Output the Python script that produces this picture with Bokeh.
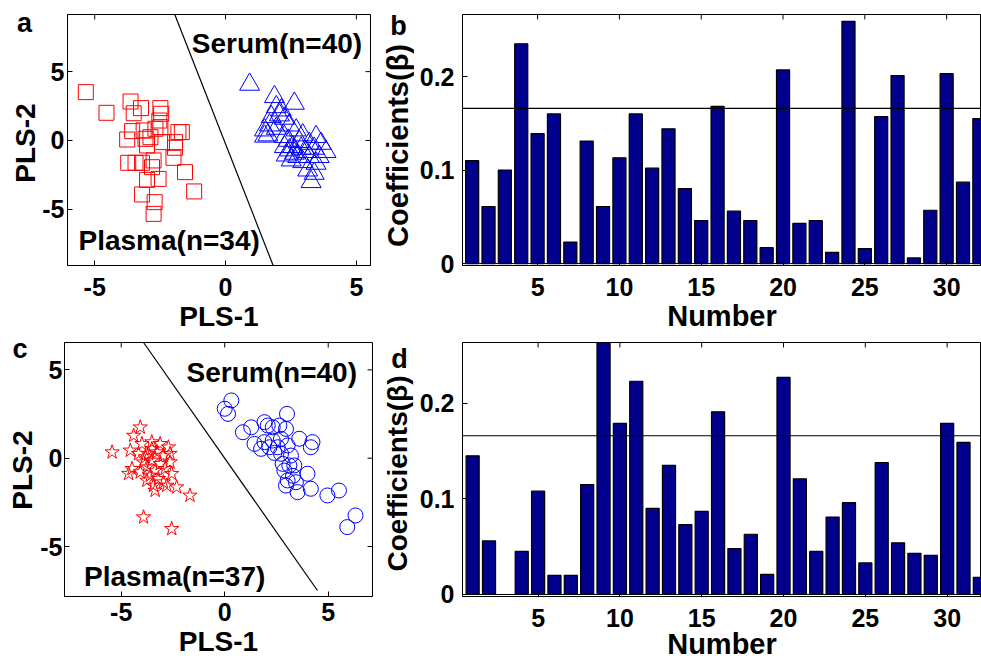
import math
from bokeh.plotting import figure
from bokeh.layouts import column, row
from bokeh.models import Range1d, FixedTicker, Label, Span
from bokeh.embed import file_html
from bokeh.resources import INLINE

FONT = "Liberation Sans"

# ---------------- data ----------------
# Panel a: PLS scores (squares = plasma, triangles = serum)
a_plasma_x = [-5.34, -4.55, -3.63, -3.23, -3.51, -2.49, -2.46, -2.53, -3.57, -3.13,
              -2.68, -2.49, -1.80, -1.67, -3.76, -3.06, -3.00, -2.43, -1.93, -1.93,
              -2.87, -1.99, -3.72, -3.44, -3.19, -2.75, -2.81, -1.55, -3.00, -2.56,
              -3.19, -1.20, -2.71, -2.75]
a_plasma_y = [3.51, 2.01, 2.83, 2.35, 1.98, 2.35, 1.94, 1.45, 0.68, 0.73,
              0.85, 0.97, 0.61, 0.61, 0.07, 0.12, -0.36, -0.12, -0.12, -0.53,
              0.24, -1.26, -1.62, -1.62, -1.62, -1.45, -1.94, -2.30, -2.86, -2.79,
              -3.92, -3.70, -4.48, -5.33]
a_serum_x = [0.92, 1.87, 2.63, 1.94, 2.13, 1.75, 2.25, 1.68, 1.49, 1.94,
             2.44, 2.70, 1.62, 2.25, 2.95, 3.46, 2.82, 3.20, 3.65, 2.25,
             2.57, 2.44, 2.89, 3.39, 3.84, 2.63, 3.08, 2.32, 2.76, 3.20,
             3.58, 2.51, 2.95, 3.46, 3.14, 3.39, 3.27, 2.06, 1.49, 2.40]
a_serum_y = [4.07, 3.17, 2.69, 2.44, 2.20, 1.72, 1.60, 1.11, 0.75, 0.87,
             1.11, 0.75, 0.39, 0.27, 0.39, 0.27, -0.09, -0.22, -0.22, -0.46,
             -0.46, -0.70, -0.58, -0.58, -0.82, -0.94, -0.82, -1.07, -1.18, -1.18,
             -1.18, -1.43, -1.55, -1.67, -2.16, -2.40, -3.00, 1.84, 0.30, 0.00]
a_boundary_x = [-1.94, 1.82]
a_boundary_y = [9.15, -9.08]

# Panel c: PLS scores (stars = plasma, circles = serum)
c_plasma_x = [-4.08, -4.40, -5.44, -4.56, -4.00, -3.52, -3.12, -2.72, -4.16, -3.68,
              -3.28, -2.96, -2.64, -3.92, -3.52, -3.12, -4.48, -3.76, -3.36, -2.88,
              -2.64, -4.64, -4.08, -3.60, -3.20, -2.56, -3.76, -3.44, -2.96, -3.36,
              -2.80, -2.32, -1.68, -3.92, -2.56, -3.52, -3.84]
c_plasma_y = [1.75, 1.28, 0.34, 0.44, 0.81, 0.91, 0.81, 0.62, 0.25, 0.25,
              0.34, 0.15, 0.25, -0.23, -0.13, -0.32, -0.60, -0.51, -0.70, -0.60,
              -0.23, -0.88, -0.79, -0.98, -1.17, -0.88, -1.26, -1.55, -1.36, -1.83,
              -1.55, -1.64, -2.11, -3.34, -4.00, 0.53, 0.06]
c_serum_x = [0.32, 0.00, 0.16, 0.88, 1.28, 1.92, 3.01, 2.32, 2.64, 2.96,
             1.92, 2.32, 2.72, 1.76, 2.16, 2.56, 3.04, 3.60, 4.24, 4.16,
             2.72, 3.20, 2.80, 3.12, 2.88, 3.36, 4.00, 3.04, 3.44, 2.96,
             3.52, 4.16, 4.96, 5.52, 6.32, 5.92, 2.08, 1.44, 2.40, 3.30]
c_serum_y = [3.27, 2.80, 2.51, 1.47, 1.75, 2.04, 2.51, 1.75, 1.85, 1.66,
             0.91, 1.00, 1.10, 0.53, 0.62, 0.62, 0.72, 1.10, 0.91, 0.62,
             0.25, 0.15, -0.32, -0.41, -0.70, -0.41, -0.88, -1.26, -1.36, -1.55,
             -1.92, -1.73, -2.11, -1.83, -3.24, -3.90, 1.85, 0.81, 0.30, -1.00]
c_boundary_x = [-3.92, 4.48]
c_boundary_y = [6.55, -7.49]

# Panels b, d: regression coefficients
numbers = list(range(1, 33))
b_coef = [0.110, 0.061, 0.100, 0.235, 0.139, 0.160, 0.023, 0.131, 0.061, 0.113,
          0.160, 0.102, 0.144, 0.080, 0.046, 0.168, 0.056, 0.046, 0.017, 0.207,
          0.043, 0.046, 0.012, 0.259, 0.016, 0.157, 0.201, 0.006, 0.057, 0.203,
          0.087, 0.155]
d_coef = [0.145, 0.056, 0.000, 0.045, 0.108, 0.020, 0.020, 0.115, 0.270, 0.179,
          0.223, 0.090, 0.135, 0.073, 0.087, 0.191, 0.048, 0.063, 0.021, 0.227,
          0.121, 0.045, 0.081, 0.096, 0.033, 0.138, 0.054, 0.043, 0.041, 0.179,
          0.159, 0.018]
threshold = 0.166

scatter_ticks = [-5, 0, 5]
scatter_labels = {-5: "-5", 0: "0", 5: "5"}
bar_xticks = [5, 10, 15, 20, 25, 30]
bar_yticks = [0, 0.1, 0.2]
bar_ylabels = {0: "0", 0.1: "0.1", 0.2: "0.2"}

RED = "#ff0000"
BLUE = "#0000ff"
NAVY = "#00008c"

# layout geometry (pixels)
ROW1_Y0, ROW1_H, ROW1_TOP, ROW1_BOT = 0, 334, 14, 69
ROW2_Y0, ROW2_H, ROW2_TOP, ROW2_BOT = 334, 328, 8, 66


def base_fig(w, h, xr, yr, bl, br, bt, bb):
    p = figure(width=w, height=h, x_range=Range1d(*xr), y_range=Range1d(*yr),
               output_backend="svg", toolbar_location=None,
               min_border_left=bl, min_border_right=br,
               min_border_top=bt, min_border_bottom=bb)
    p.xgrid.visible = False
    p.ygrid.visible = False
    p.outline_line_color = "black"
    p.outline_line_width = 1
    p.background_fill_color = "white"
    p.border_fill_color = "white"
    return p


def style_axes(p, xticks, yticks, xlabel, x_standoff, y_standoff, xl_standoff,
               xl_size, right_ticks=True):
    for ax in (p.xaxis[0], p.yaxis[0]):
        ax.major_tick_in = 5
        ax.major_tick_out = 0
        ax.minor_tick_line_color = None
        ax.axis_line_color = "black"
        ax.major_tick_line_color = "black"
        ax.major_label_text_font = FONT
        ax.major_label_text_font_style = "bold"
        ax.major_label_text_font_size = "25px"
        ax.major_label_text_color = "black"
        ax.axis_label_text_font = FONT
        ax.axis_label_text_font_style = "bold"
        ax.axis_label_text_color = "black"
    p.xaxis[0].axis_label_text_font_size = xl_size
    p.xaxis[0].ticker = FixedTicker(ticks=xticks)
    p.yaxis[0].ticker = FixedTicker(ticks=yticks)
    p.xaxis[0].axis_label = xlabel
    p.xaxis[0].major_label_standoff = x_standoff
    p.yaxis[0].major_label_standoff = y_standoff
    p.xaxis[0].axis_label_standoff = xl_standoff
    # box ticks on the top (and right) edge, short dashes clipped by the frame
    ytop = p.y_range.end
    p.scatter(x=xticks, y=[ytop] * len(xticks), marker="dash", angle=math.pi / 2,
              size=10, line_color="black", line_width=1)
    if right_ticks:
        xr = p.x_range.end
        p.scatter(x=[xr] * len(yticks), y=yticks, marker="dash", size=10,
                  line_color="black", line_width=1)


def add_label(p, x, y, text, size="28px", align="left"):
    p.add_layout(Label(x=x, y=y, text=text, text_font=FONT, text_font_style="bold",
                       text_font_size=size, text_baseline="middle", text_align=align,
                       text_color="black"))


def gutter(w, h, row_top, row_bot, y0, letter, letter_xy, ylabel, ylabel_xy, ylabel_size):
    # narrow strip left of a panel; its frame is aligned with the panel frame,
    # so its y range is expressed in page pixels (y0 = page y of the row top)
    frame_top = y0 + row_top
    frame_bot = y0 + h - row_bot
    g = figure(width=w, height=h, x_range=Range1d(0, w),
               y_range=Range1d(frame_bot, frame_top),
               x_axis_type=None, y_axis_type=None, output_backend="svg",
               toolbar_location=None, min_border_left=0, min_border_right=0,
               min_border_top=row_top, min_border_bottom=row_bot)
    g.outline_line_color = None
    g.background_fill_color = "white"
    g.border_fill_color = "white"
    g.add_layout(Label(x=letter_xy[0], y=letter_xy[1], text=letter, text_font=FONT,
                       text_font_style="bold", text_font_size="27px",
                       text_align="center", text_baseline="middle", text_color="black"))
    g.add_layout(Label(x=ylabel_xy[0], y=ylabel_xy[1], text=ylabel, text_font=FONT,
                       text_font_style="bold", text_font_size=ylabel_size,
                       angle=math.pi / 2, text_align="center", text_baseline="middle",
                       text_color="black"))
    return g


# ---------------- panel a ----------------
ga = gutter(39, ROW1_H, ROW1_TOP, ROW1_BOT, ROW1_Y0, "a", (24, 22),
            "PLS-2", (24.5, 142.5), "28px")
pa = base_fig(341, ROW1_H, (-6.04, 5.54), (-9.08, 9.15), 26, 10, ROW1_TOP, ROW1_BOT)
pa.line(a_boundary_x, a_boundary_y, line_color="black", line_width=1.2)
pa.scatter(a_plasma_x, a_plasma_y, marker="square", size=15, fill_color=None,
           line_color=RED, line_width=1)
pa.scatter(a_serum_x, a_serum_y, marker="triangle", size=20, fill_color=None,
           line_color=BLUE, line_width=1)
style_axes(pa, scatter_ticks, scatter_ticks, "PLS-1", 12, 3, 2, "28px")
pa.xaxis[0].major_label_overrides = scatter_labels
pa.yaxis[0].major_label_overrides = scatter_labels
add_label(pa, -1.29, 7.04, "Serum(n=40)")
add_label(pa, -5.62, -7.26, "Plasma(n=34)")

# ---------------- panel b ----------------
gb = gutter(34, ROW1_H, ROW1_TOP, ROW1_BOT, ROW1_Y0, "b", (18, 25),
            "Coefficients(β)", (17, 145), "29px")
pb = base_fig(567, ROW1_H, (0.41, 32.13), (-0.0021, 0.2663), 48, 0, ROW1_TOP, ROW1_BOT)
pb.vbar(x=numbers, top=b_coef, width=0.8, fill_color=NAVY, line_color="black",
        line_width=1.2)
pb.add_layout(Span(location=0, dimension="width", line_color="black", line_width=1))
pb.add_layout(Span(location=threshold, dimension="width", line_color="black", line_width=1.2))
style_axes(pb, bar_xticks, bar_yticks, "Number", 12, 8, 1, "29px", right_ticks=False)
pb.yaxis[0].major_label_overrides = bar_ylabels

# ---------------- panel c ----------------
gc = gutter(37, ROW2_H, ROW2_TOP, ROW2_BOT, ROW2_Y0, "c", (19.5, 348.5),
            "PLS-2", (22, 469.5), "28px")
pc = base_fig(343, ROW2_H, (-7.74, 7.14), (-7.83, 6.55), 25, 8, ROW2_TOP, ROW2_BOT)
pc.line(c_boundary_x, c_boundary_y, line_color="black", line_width=1.2)
pc.scatter(c_plasma_x, c_plasma_y, marker="star", size=15, fill_color=None,
           line_color=RED, line_width=1)
pc.scatter(c_serum_x, c_serum_y, marker="circle", size=15, fill_color=None,
           line_color=BLUE, line_width=1)
style_axes(pc, scatter_ticks, scatter_ticks, "PLS-1", 6, 2, 2, "28px")
pc.xaxis[0].major_label_overrides = scatter_labels
pc.yaxis[0].major_label_overrides = scatter_labels
add_label(pc, -1.84, 4.87, "Serum(n=40)")
add_label(pc, -6.80, -6.69, "Plasma(n=37)")

# ---------------- panel d ----------------
gd = gutter(34, ROW2_H, ROW2_TOP, ROW2_BOT, ROW2_Y0, "d", (19, 358),
            "Coefficients(β)", (17, 473), "28px")
pd_ = base_fig(567, ROW2_H, (0.38, 32.1), (-0.0021, 0.2635), 48, 0, ROW2_TOP, ROW2_BOT)
pd_.vbar(x=numbers, top=d_coef, width=0.8, fill_color=NAVY, line_color="black",
         line_width=1.2)
pd_.add_layout(Span(location=0, dimension="width", line_color="black", line_width=1))
pd_.add_layout(Span(location=threshold, dimension="width", line_color="black", line_width=1.2))
style_axes(pd_, bar_xticks, bar_yticks, "Number", 12, 8, -2, "29px", right_ticks=False)
pd_.yaxis[0].major_label_overrides = bar_ylabels

layout = column(row(ga, pa, gb, pb, spacing=0), row(gc, pc, gd, pd_, spacing=0), spacing=0)

open("out.html", "w").write(file_html(layout, INLINE))
